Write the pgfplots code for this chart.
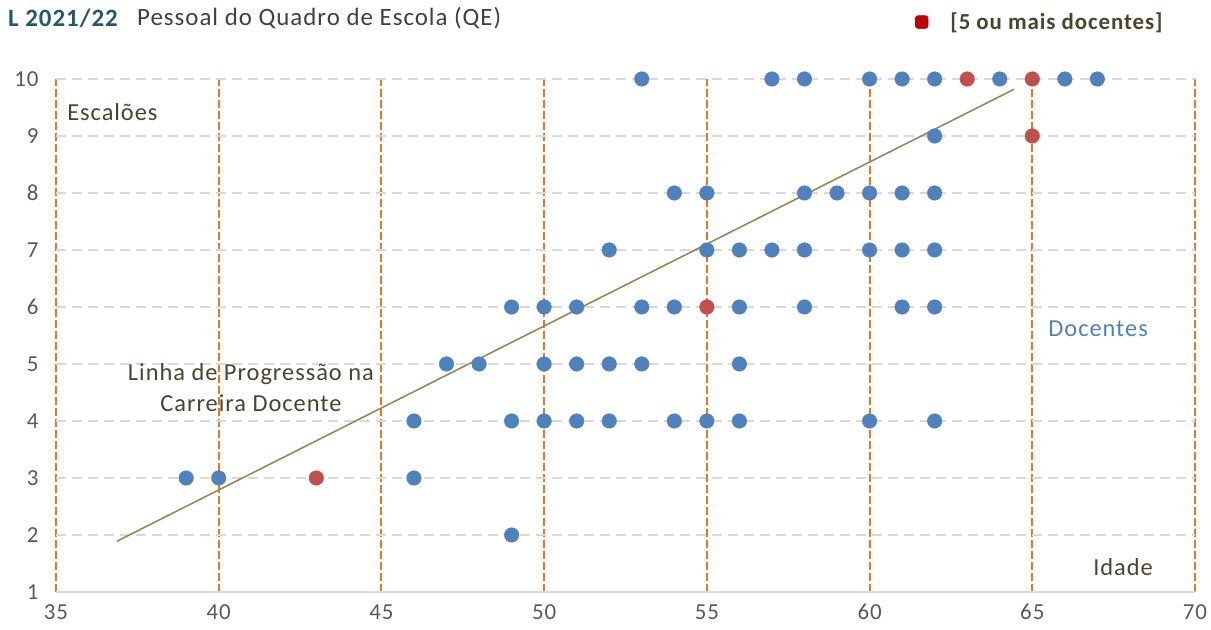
\documentclass[border=0pt]{standalone}
\usepackage{pgfplots}
\pgfplotsset{compat=1.18}
\usepackage{fontspec}
\setmainfont{Carlito}
\newfontfamily\spc{Carlito}[LetterSpace=4]
\usetikzlibrary{calc}
\definecolor{dblue}{HTML}{4F81BD}
\definecolor{dred}{HTML}{C0504D}
\definecolor{lred}{HTML}{C00000}
\definecolor{org}{HTML}{E87722}
\definecolor{grd}{HTML}{D9D9D9}
\definecolor{tck}{HTML}{595959}
\definecolor{txt}{HTML}{4A452A}
\definecolor{ttl}{HTML}{215968}
\definecolor{olv}{HTML}{948A54}
\begin{document}
\begin{tikzpicture}
\begin{axis}[name=ax, scale only axis, width=1139bp, height=513bp,
 xmin=35, xmax=70, ymin=1, ymax=10,
 xtick={35,40,...,70}, ytick={1,2,...,10},
 axis x line*=bottom, axis y line*=left,
 y axis line style={draw=none},
 x axis line style={draw=grd, line width=1.8bp},
 major tick length=0pt,
 xmajorgrids, ymajorgrids,
 x grid style={draw=org, line width=2bp, dash pattern=on 7.5bp off 3.5bp},
 y grid style={draw=grd, line width=1.8bp, dash pattern=on 10bp off 6bp},
 /pgf/number format/assume math mode=true,
 xticklabels={35,40,45,50,55,60,65,70},
 yticklabels={1,2,3,4,5,6,7,8,9,10},
 x tick label style={font=\spc\fontsize{23}{27}\selectfont, text=tck, anchor=center, yshift=-20bp},
 y tick label style={font=\spc\fontsize{23}{27}\selectfont, text=tck, anchor=east, xshift=-14bp},
 clip=false,
 legend style={at={(0.754,1.111)}, anchor=west, draw=none, fill=none,
   font=\spc\fontsize{23}{27}\selectfont\bfseries, text=txt, inner sep=0pt},
 legend cell align=left,
 legend image code/.code={\fill[lred, rounded corners=3bp] (-6.5bp,-6.5bp) rectangle (6.5bp,6.5bp);},
]
\addlegendimage{lred}
\addlegendentry{\hspace*{20bp}[5 ou mais docentes]}
\addplot[olv, line width=1.6bp, forget plot] coordinates {(36.87,1.89) (64.44,9.82)};
\addplot[only marks, mark=*, mark size=7.3bp, dblue, forget plot] coordinates {
(53,10)(57,10)(58,10)(60,10)(61,10)(62,10)(64,10)(66,10)(67,10)
(62,9)
(54,8)(55,8)(58,8)(59,8)(60,8)(61,8)(62,8)
(52,7)(55,7)(56,7)(57,7)(58,7)(60,7)(61,7)(62,7)
(49,6)(50,6)(51,6)(53,6)(54,6)(56,6)(58,6)(61,6)(62,6)
(47,5)(48,5)(50,5)(51,5)(52,5)(53,5)(56,5)
(46,4)(49,4)(50,4)(51,4)(52,4)(54,4)(55,4)(56,4)(60,4)(62,4)
(39,3)(40,3)(46,3)
(49,2)
};
\addplot[only marks, mark=*, mark size=7.3bp, dred, forget plot] coordinates {
(63,10)(65,10)(65,9)(55,6)(43,3)
};
\node[anchor=west, inner sep=0pt, text=txt, font=\spc\fontsize{24.5}{29}\selectfont] at (axis cs:35.34,9.42) {Escalões};
\node[anchor=west, inner sep=0pt, text=dblue, font=\spc\fontsize{24.5}{29}\selectfont] at (axis cs:65.49,5.61) {Docentes};
\node[align=center, inner sep=0pt, text=txt, font=\spc\fontsize{24.5}{31}\selectfont] at (axis cs:40.99,4.58) {Linha de Progressão na\\Carreira Docente};
\node[inner sep=0pt, text=txt, font=\spc\fontsize{24.5}{29}\selectfont] at (axis cs:67.79,1.44) {Idade};
\end{axis}
\node[anchor=west, inner sep=0pt, text=ttl, font=\spc\fontsize{25}{29}\selectfont\bfseries] at ($(ax.north west)+(-48bp,61bp)$) {L 2021/22};
\node[anchor=west, inner sep=0pt, text=black!75, font=\spc\fontsize{25}{29}\selectfont] at ($(ax.north west)+(81bp,61bp)$) {Pessoal do Quadro de Escola (QE)};
\pgfresetboundingbox
\path ($(ax.south west)+(-56bp,-38bp)$) rectangle ($(ax.north east)+(16bp,79bp)$);
\end{tikzpicture}
\end{document}
